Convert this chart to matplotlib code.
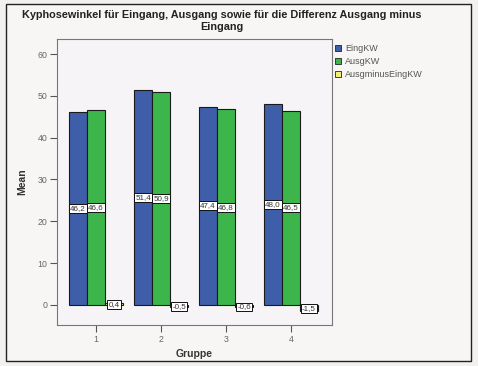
import matplotlib
matplotlib.use("Agg")
import matplotlib.pyplot as plt
import numpy as np
from matplotlib.patches import Rectangle

plt.rcParams['font.family'] = ['Liberation Sans', 'DejaVu Sans']

groups = ["1", "2", "3", "4"]
series_names = ["EingKW", "AusgKW", "AusgminusEingKW"]
eing = [46.2, 51.4, 47.4, 48.0]
ausg = [46.6, 50.9, 46.8, 46.5]
diff = [0.4, -0.5, -0.6, -1.5]
colors = ["#3f5ea9", "#3cb54b", "#f2ee7c"]

W, H = 478, 366
fig = plt.figure(figsize=(W / 100, H / 100), dpi=100)
fig.patch.set_facecolor("#f2f1ef")

# border rectangle
fig.patches.append(Rectangle((6 / W, 1 - 361 / H), (471 - 6) / W, (361 - 4) / H,
                             transform=fig.transFigure, fill=True, facecolor="#f7f6f5",
                             edgecolor="#222222", lw=1.0, zorder=-5))

ax = fig.add_axes([57 / W, 1 - 325 / H, (332 - 57) / W, (325 - 39) / H])
ax.set_facecolor("#f6f4f6")

x = np.arange(1, len(groups) + 1)
bw = 0.277
for i, (vals, c) in enumerate(zip([eing, ausg, diff], colors)):
    pos = x + (i - 1) * bw
    ax.bar(pos, vals, width=bw, color=c, edgecolor="#1a1a1a", lw=0.8, label=series_names[i], zorder=2)
    for p, v in zip(pos, vals):
        txt = f"{v:.1f}".replace(".", ",")
        ypos = v / 2 if i < 2 else (0 if v > 0 else v * 0.5 - 0.2)
        ax.text(p, ypos, txt, ha="center", va="center", fontsize=5.8, color="#333333",
                bbox=dict(boxstyle="square,pad=0.12", fc="white", ec="#111111", lw=0.7), zorder=3)

ax.set_xlim(0.4, 4.63)
ax.set_ylim(-4.8, 63.6)
ax.set_xticks(x)
ax.set_xticklabels(groups)
ax.set_yticks([0, 10, 20, 30, 40, 50, 60])
ax.tick_params(axis="both", labelsize=6.3, colors="#555555", length=5, width=0.8, direction="out", pad=2)
ax.tick_params(axis="both", labelcolor="#666666")
for s in ax.spines.values():
    s.set_color("#777777")
    s.set_linewidth(0.8)

ax.set_xlabel("Gruppe", fontsize=7.5, fontweight="bold", color="#333333", labelpad=4)
ax.set_ylabel("Mean", fontsize=7.5, fontweight="bold", color="#333333", labelpad=7)

fig.text(222 / W, 1 - 21 / H, "Kyphosewinkel für Eingang, Ausgang sowie für die Differenz Ausgang minus\nEingang",
         ha="center", va="center", fontsize=7.8, fontweight="bold", color="#222222", linespacing=1.15)

handles = [Rectangle((0, 0), 1, 1, fc=c, ec="#222222", lw=0.6) for c in colors]
leg = fig.legend(handles, series_names, loc="upper left", bbox_to_anchor=(335 / W, 1 - 44 / H),
                 frameon=False, fontsize=6.5, handlelength=0.7, handleheight=0.7,
                 handletextpad=0.4, labelspacing=0.45, borderaxespad=0, borderpad=0)
for t in leg.get_texts():
    t.set_color("#555555")

fig.savefig("out.png", dpi=100, facecolor=fig.get_facecolor())
